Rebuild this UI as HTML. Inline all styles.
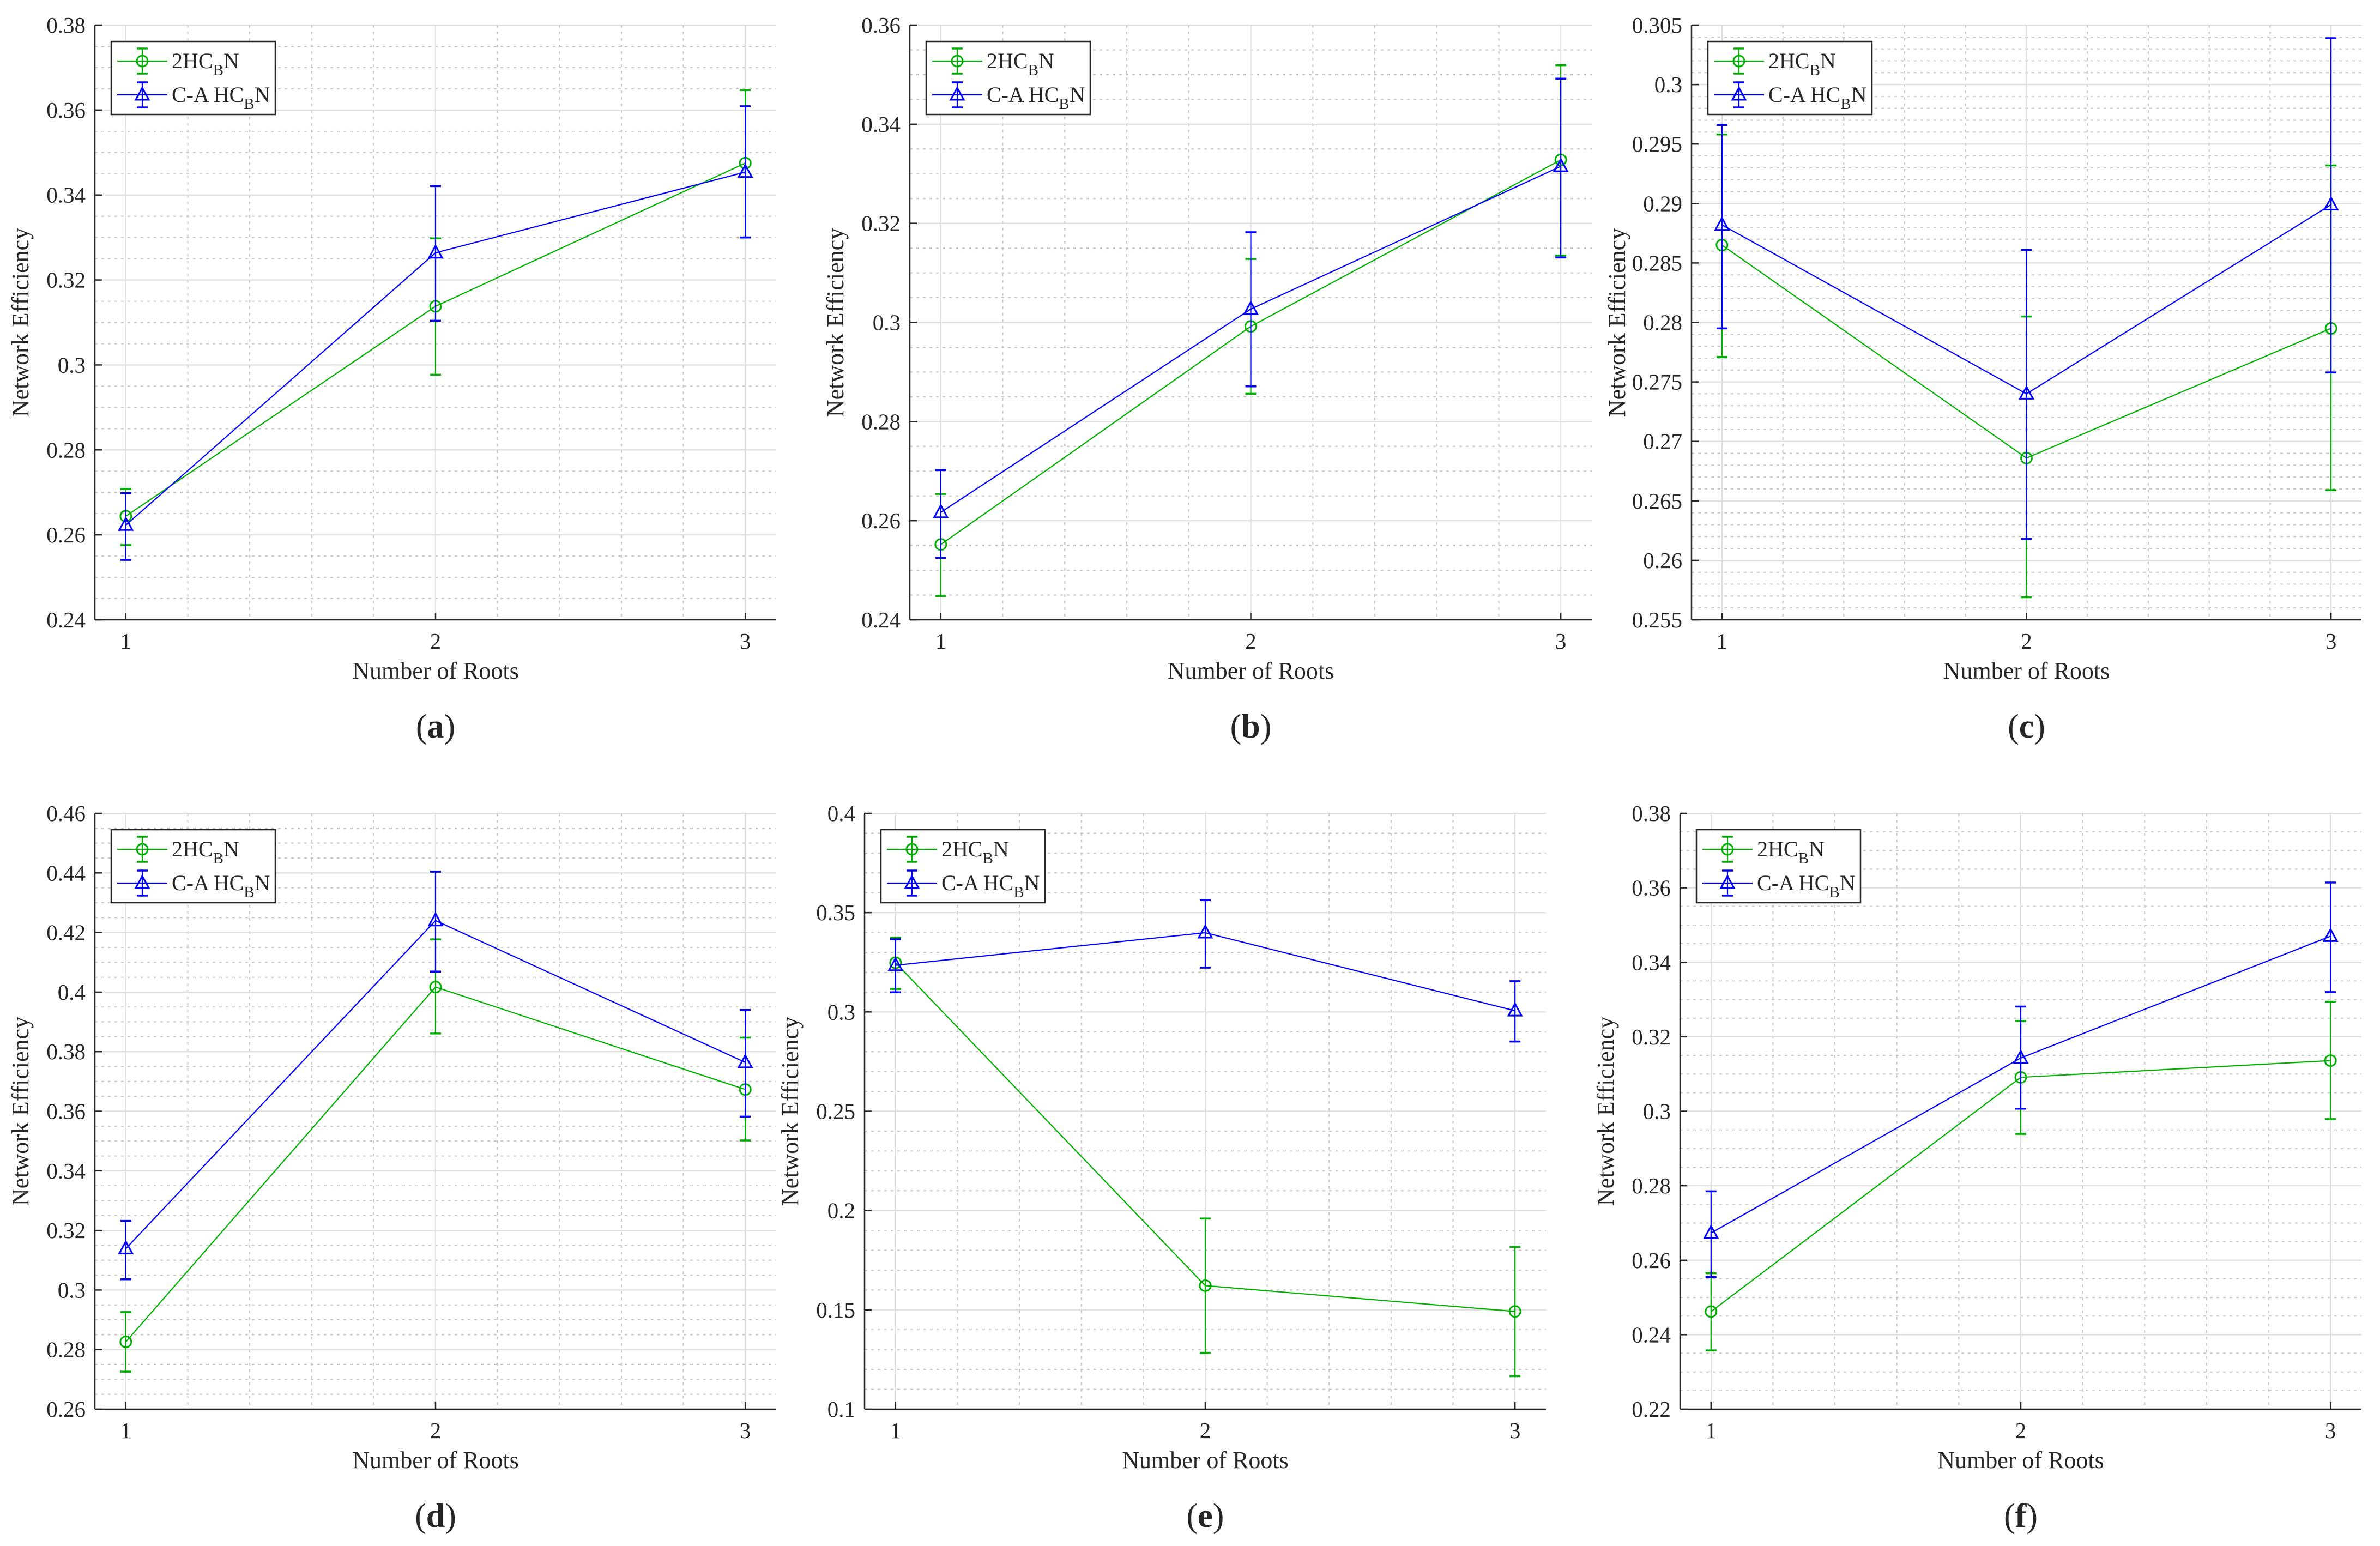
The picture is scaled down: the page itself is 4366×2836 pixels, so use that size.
<!DOCTYPE html>
<html><head><meta charset="utf-8">
<style>
html,body{margin:0;padding:0;background:#fff;}
svg{display:block;}
text{font-family:"Liberation Serif","Times New Roman",serif;fill:#262626;}
</style></head>
<body>
<svg id="fig" width="4366" height="2836" viewBox="0 0 4366 2836" xmlns="http://www.w3.org/2000/svg"></svg>
<script>
// ---- data ----
const categories = [1, 2, 3];
const xTickLabels = ["1", "2", "3"];
// panel a
const aGreen = [0.2644, 0.3138, 0.3475];
const aGreenLow = [0.2576, 0.2977, 0.3300];
const aGreenHigh = [0.2708, 0.3298, 0.3647];
const aBlue = [0.2623, 0.3264, 0.3454];
const aBlueLow = [0.2541, 0.3104, 0.3300];
const aBlueHigh = [0.2698, 0.3421, 0.3609];
const aYTicks = [0.24, 0.26, 0.28, 0.30, 0.32, 0.34, 0.36, 0.38];
// panel b
const bGreen = [0.2552, 0.2992, 0.3328];
const bGreenLow = [0.2448, 0.2856, 0.3135];
const bGreenHigh = [0.2654, 0.3128, 0.3519];
const bBlue = [0.2617, 0.3027, 0.3315];
const bBlueLow = [0.2525, 0.2871, 0.3131];
const bBlueHigh = [0.2702, 0.3182, 0.3492];
const bYTicks = [0.24, 0.26, 0.28, 0.30, 0.32, 0.34, 0.36];
// panel c
const cGreen = [0.2865, 0.2686, 0.2795];
const cGreenLow = [0.2771, 0.2569, 0.2659];
const cGreenHigh = [0.2958, 0.2805, 0.2932];
const cBlue = [0.2882, 0.2740, 0.2899];
const cBlueLow = [0.2795, 0.2618, 0.2758];
const cBlueHigh = [0.2966, 0.2861, 0.3039];
const cYTicks = [0.255, 0.26, 0.265, 0.27, 0.275, 0.28, 0.285, 0.29, 0.295, 0.30, 0.305];
// panel d
const dGreen = [0.2826, 0.4017, 0.3673];
const dGreenLow = [0.2726, 0.3861, 0.3502];
const dGreenHigh = [0.2926, 0.4177, 0.3847];
const dBlue = [0.3139, 0.4240, 0.3764];
const dBlueLow = [0.3036, 0.4069, 0.3582];
const dBlueHigh = [0.3232, 0.4404, 0.3940];
const dYTicks = [0.26, 0.28, 0.30, 0.32, 0.34, 0.36, 0.38, 0.40, 0.42, 0.44, 0.46];
// panel e
const eGreen = [0.3248, 0.1622, 0.1492];
const eGreenLow = [0.3116, 0.1284, 0.1166];
const eGreenHigh = [0.3374, 0.1960, 0.1817];
const eBlue = [0.3235, 0.3399, 0.3006];
const eBlueLow = [0.3099, 0.3223, 0.2851];
const eBlueHigh = [0.3366, 0.3563, 0.3155];
const eYTicks = [0.10, 0.15, 0.20, 0.25, 0.30, 0.35, 0.40];
// panel f
const fGreen = [0.2462, 0.3091, 0.3136];
const fGreenLow = [0.2358, 0.2939, 0.2979];
const fGreenHigh = [0.2565, 0.3242, 0.3294];
const fBlue = [0.2673, 0.3143, 0.3470];
const fBlueLow = [0.2555, 0.3007, 0.3320];
const fBlueHigh = [0.2785, 0.3281, 0.3614];
const fYTicks = [0.22, 0.24, 0.26, 0.28, 0.30, 0.32, 0.34, 0.36, 0.38];

// ---- layout (not data) ----
const panels = [
  {id:"a", L:174, R:1424, T:46, B:1137, minor:0.005, g:[aGreen,aGreenLow,aGreenHigh], b:[aBlue,aBlueLow,aBlueHigh], ticks:aYTicks},
  {id:"b", L:1669, R:2920, T:46, B:1137, minor:0.005, g:[bGreen,bGreenLow,bGreenHigh], b:[bBlue,bBlueLow,bBlueHigh], ticks:bYTicks},
  {id:"c", L:3103, R:4332, T:46, B:1137, minor:0.001, g:[cGreen,cGreenLow,cGreenHigh], b:[cBlue,cBlueLow,cBlueHigh], ticks:cYTicks},
  {id:"d", L:174, R:1424, T:1492, B:2585, minor:0.005, g:[dGreen,dGreenLow,dGreenHigh], b:[dBlue,dBlueLow,dBlueHigh], ticks:dYTicks},
  {id:"e", L:1586, R:2836, T:1492, B:2585, minor:0.01, g:[eGreen,eGreenLow,eGreenHigh], b:[eBlue,eBlueLow,eBlueHigh], ticks:eYTicks},
  {id:"f", L:3082, R:4332, T:1492, B:2585, minor:0.005, g:[fGreen,fGreenLow,fGreenHigh], b:[fBlue,fBlueLow,fBlueHigh], ticks:fYTicks}
];
const GREEN = "#00b000", BLUE = "#0000ff", AX = "#262626";
const NS = "http://www.w3.org/2000/svg";
const fig = document.getElementById("fig");

function mk(tag, attrs, parent) {
  const el = document.createElementNS(NS, tag);
  for (const k in attrs) el.setAttribute(k, attrs[k]);
  (parent || fig).appendChild(el);
  return el;
}
function fmt(v) { return String(Number(v.toFixed(4))); }

function drawMarker(g, kind, x, y, color) {
  if (kind === "circle") {
    const m = mk("circle", {cx:x, cy:y, r:10, fill:"none", stroke:color, "stroke-width":3}, g);
    
    
  } else {
    const m = mk("polygon", {points:`${x},${y-13} ${x-12},${y+9} ${x+12},${y+9}`, fill:"none", stroke:color, "stroke-width":3}, g);
    
    
  }
}

function drawSeries(p, g, vals, color, kind, name, sx, sy) {
  const [mean, lo, hi] = vals;
  const sg = mk("g", {}, g);
  
  
  const pts = categories.map((c, i) => `${sx(c)},${sy(mean[i])}`).join(" ");
  const line = mk("polyline", {points:pts, fill:"none", stroke:color, "stroke-width":2.2}, sg);
  
  
  categories.forEach((c, i) => {
    const x = sx(c);
    const eb = mk("g", {stroke:color}, sg);
    
    
    mk("line", {x1:x, x2:x, y1:sy(lo[i]), y2:sy(hi[i]), "stroke-width":2.2}, eb);
    mk("line", {x1:x-10, x2:x+10, y1:sy(lo[i]), y2:sy(lo[i]), "stroke-width":3.5}, eb);
    mk("line", {x1:x-10, x2:x+10, y1:sy(hi[i]), y2:sy(hi[i]), "stroke-width":3.5}, eb);
    drawMarker(sg, kind, x, sy(mean[i]), color);
  });
}

function legendText(g, x, y, prefix) {
  const t = mk("text", {x:x, y:y, "font-size":40}, g);
  
  
  const a = mk("tspan", {}, t); a.textContent = prefix + "HC";
  const b = mk("tspan", {dy:13, "font-size":29}, t); b.textContent = "B";
  const c = mk("tspan", {dy:-13}, t); c.textContent = "N";
}

panels.forEach(p => {
  const g = mk("g", {});
  
  
  const ymin = p.ticks[0], ymax = p.ticks[p.ticks.length - 1];
  const xmin = 0.9, xmax = 3.1;
  const sx = v => p.L + (v - xmin) / (xmax - xmin) * (p.R - p.L);
  const sy = v => p.B - (v - ymin) / (ymax - ymin) * (p.B - p.T);

  // minor grid
  const grid = mk("g", {}, g);
  
  
  const nMinor = Math.round((ymax - ymin) / p.minor);
  for (let k = 1; k < nMinor; k++) {
    const v = ymin + k * p.minor;
    const isMajor = p.ticks.some(t => Math.abs(t - v) < 1e-9);
    if (isMajor) continue;
    mk("line", {x1:p.L, x2:p.R, y1:sy(v), y2:sy(v), stroke:"#c6c6c6", "stroke-width":2, "stroke-dasharray":"5,7"}, grid);
  }
  for (let k = 1; k <= 10; k++) {
    const v = 1 + k * 0.2 - 0.2;
    if (Math.abs(v - Math.round(v)) < 1e-9) continue;
    if (v >= xmax) continue;
    mk("line", {x1:sx(v), x2:sx(v), y1:p.T, y2:p.B, stroke:"#c6c6c6", "stroke-width":2, "stroke-dasharray":"5,7"}, grid);
  }
  // major grid
  p.ticks.forEach(t => mk("line", {x1:p.L, x2:p.R, y1:sy(t), y2:sy(t), stroke:"#dedede", "stroke-width":2.2}, grid));
  categories.forEach(c => mk("line", {x1:sx(c), x2:sx(c), y1:p.T, y2:p.B, stroke:"#dedede", "stroke-width":2.2}, grid));

  // axes
  const ax = mk("g", {stroke:AX, "stroke-width":2.5}, g);
  
  
  mk("line", {x1:p.L, x2:p.L, y1:p.T, y2:p.B}, ax);
  mk("line", {x1:p.L, x2:p.R, y1:p.B, y2:p.B}, ax);
  p.ticks.forEach(t => mk("line", {x1:p.L, x2:p.L + 13, y1:sy(t), y2:sy(t)}, ax));
  categories.forEach(c => mk("line", {x1:sx(c), x2:sx(c), y1:p.B, y2:p.B - 13}, ax));

  // tick labels
  p.ticks.forEach(t => {
    const tx = mk("text", {x:p.L - 17, y:sy(t) + 14, "font-size":41, "text-anchor":"end"}, g);
    
    
    tx.textContent = fmt(t);
  });
  categories.forEach((c, i) => {
    const tx = mk("text", {x:sx(c), y:p.B + 53, "font-size":41, "text-anchor":"middle"}, g);
    
    
    tx.textContent = xTickLabels[i];
  });
  const xt = mk("text", {x:(p.L + p.R) / 2, y:p.B + 108, "font-size":44, "text-anchor":"middle"}, g);
  
  
  xt.textContent = "Number of Roots";
  const cy = (p.T + p.B) / 2, yx = p.L - 122;
  const yt = mk("text", {x:yx, y:cy, "font-size":44, "text-anchor":"middle", transform:`rotate(-90 ${yx} ${cy})`}, g);
  
  
  yt.textContent = "Network Efficiency";

  // series
  drawSeries(p, g, p.g, GREEN, "circle", "series-2hcbn", sx, sy);
  drawSeries(p, g, p.b, BLUE, "triangle", "series-ca-hcbn", sx, sy);

  // legend
  const lg = mk("g", {}, g);
  
  
  const lx = p.L + 30, ly = p.T + 30;
  mk("rect", {x:lx, y:ly, width:301, height:134, fill:"#fff", stroke:AX, "stroke-width":2.5}, lg);
  [[GREEN, "circle", "2", 36], [BLUE, "triangle", "C-A ", 98]].forEach(([col, kind, pre, dy]) => {
    const ry = ly + dy, mx = lx + 57;
    const e = mk("g", {}, lg);
    
    
    mk("line", {x1:lx + 11, x2:lx + 103, y1:ry, y2:ry, stroke:col, "stroke-width":2.2}, e);
    mk("line", {x1:mx, x2:mx, y1:ry - 23, y2:ry + 23, stroke:col, "stroke-width":2.2}, e);
    mk("line", {x1:mx - 10, x2:mx + 10, y1:ry - 23, y2:ry - 23, stroke:col, "stroke-width":3.5}, e);
    mk("line", {x1:mx - 10, x2:mx + 10, y1:ry + 23, y2:ry + 23, stroke:col, "stroke-width":3.5}, e);
    drawMarker(e, kind, mx, ry, col);
    legendText(e, lx + 111, ry + 13, pre);
  });

  // subfigure label
  const sl = mk("text", {x:(p.L + p.R) / 2, y:p.B + 216, "font-size":62, "text-anchor":"middle"}, g);
  
  
  const s1 = mk("tspan", {}, sl); s1.textContent = "(";
  const s2 = mk("tspan", {"font-weight":"bold"}, sl); s2.textContent = p.id;
  const s3 = mk("tspan", {}, sl); s3.textContent = ")";
});
</script>
</body></html>
